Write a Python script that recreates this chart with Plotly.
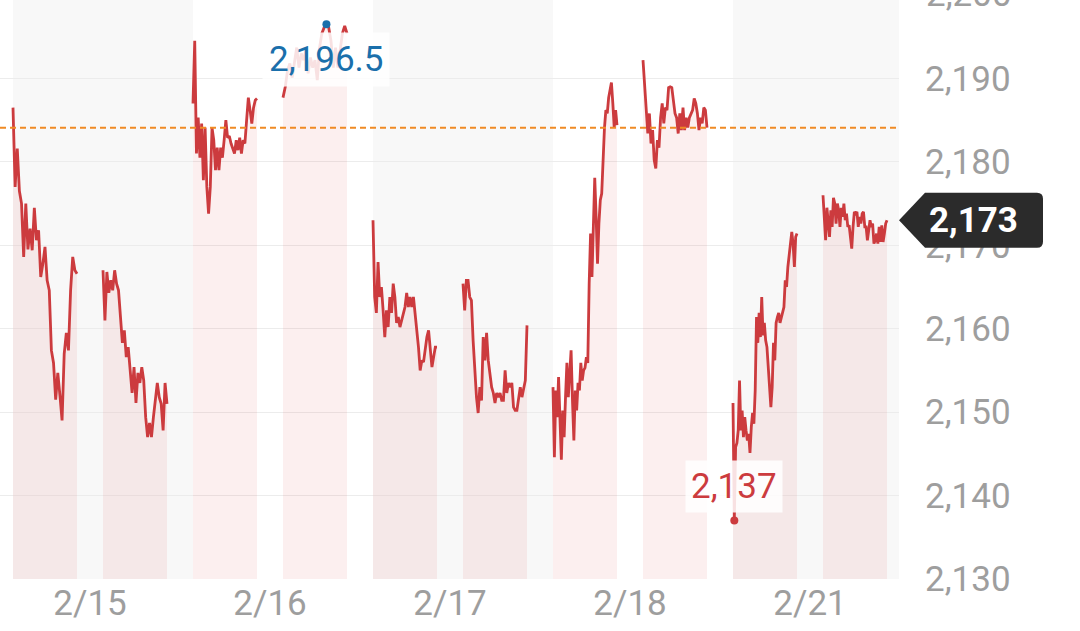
import numpy as np
import plotly.graph_objects as go

# ---------------- data ----------------
day_labels = ["2/15", "2/16", "2/17", "2/18", "2/21"]

feb15_am = [2186.5, 2177, 2181.6, 2176.5, 2175, 2168.6, 2175, 2169.5, 2172, 2169.4, 2174.5, 2170.6,
            2171.8, 2166.2, 2167.8, 2169.8, 2165.8, 2164.6, 2157.4, 2155.9, 2151.5, 2154.7, 2152,
            2149, 2157, 2159.5, 2157.4, 2164.6, 2168.6, 2167, 2166.6]
feb15_pm = [2167, 2161, 2166.8, 2164.3, 2165.8, 2164.6, 2167, 2165.4, 2164.6, 2161.4, 2158.3, 2159.8,
            2156.6, 2157.8, 2155.4, 2152.3, 2155.4, 2151.1, 2154.7, 2153.5, 2155.4, 2153.8, 2149.4,
            2147, 2148.7, 2147, 2149.4, 2151.4, 2153.5, 2151.8, 2151, 2147.8, 2153.5, 2151]
feb16_am = [2187, 2194.5, 2181, 2185.3, 2180.5, 2184.6, 2177.8, 2184.1, 2177, 2173.8, 2177, 2184.1,
            2182.6, 2179, 2181.7, 2179, 2181.7, 2180.5, 2182.6, 2185, 2182.9, 2183.1, 2182.2, 2181.7,
            2181, 2182.6, 2181.4, 2182.9, 2181, 2182.6, 2182.2, 2185, 2187.7, 2186.2, 2184.6, 2186.5,
            2187.4, 2187.6]
feb16_pm = [2187.7, 2189, 2191, 2191.8, 2190.1, 2192.2, 2193.7, 2191.3, 2193, 2192.2, 2193.4, 2190.6,
            2192.5, 2191.3, 2192.2, 2189.8, 2193.7, 2195.4, 2196.1, 2196.5, 2196.1, 2194.5, 2191.3,
            2193.7, 2191.3, 2193.4, 2195.4, 2196.3, 2195.4]
feb17_am = [2173, 2163.8, 2161.9, 2168, 2163.8, 2165, 2162.2, 2159, 2162.2, 2160.2, 2163.8, 2161.9,
            2165.4, 2163.8, 2160.7, 2161.4, 2160.2, 2161, 2161.9, 2162.6, 2164.3, 2162.6, 2163.8,
            2162.6, 2163.8, 2161.9, 2159.8, 2157.8, 2155, 2156.2, 2156, 2157.8, 2159, 2159.8, 2157.8,
            2155.4, 2156.6, 2157.8, 2157.8]
feb17_pm = [2165.4, 2162.2, 2165.8, 2165.8, 2163.8, 2163.4, 2158.6, 2154.7, 2151.8, 2149.9, 2153,
            2151.4, 2159, 2156.2, 2159.5, 2156.2, 2154.2, 2153, 2152.3, 2151.1, 2152.3, 2151.8, 2152.3,
            2151.4, 2151.4, 2155, 2152.3, 2153.5, 2153, 2153.5, 2150.6, 2150.2, 2150.2, 2151.8, 2153,
            2151.8, 2153, 2153.8, 2160.4]
feb18_am = [2153, 2144.6, 2152.6, 2149.4, 2154.2, 2149.4, 2144.3, 2150.2, 2147, 2151.8, 2155.9,
            2151.8, 2154.2, 2157.4, 2151.4, 2146.6, 2152.6, 2150.2, 2153.5, 2152.6, 2155.9, 2153.8,
            2155, 2155.3, 2156.6, 2155.9, 2165.4, 2171.4, 2166.2, 2173.4, 2178.1, 2173.4, 2167.8,
            2172.6, 2175.4, 2176.2, 2181.4, 2184.1, 2186.2, 2185.8, 2187.7, 2188.9, 2189.5, 2187,
            2184.1, 2186.2, 2184.4]
feb18_pm = [2192.2, 2189.4, 2186.2, 2183.4, 2185.8, 2182.2, 2183.8, 2180.2, 2179.2, 2182.6, 2181.7,
            2185.3, 2187, 2184.6, 2186.5, 2186.2, 2188.9, 2189, 2188.9, 2187.4, 2185.8, 2185.3, 2183.4,
            2185.8, 2183.8, 2186.5, 2183.8, 2185.3, 2184.1, 2185.3, 2185.8, 2186.2, 2187.6, 2187,
            2185.8, 2183.8, 2185.3, 2184.6, 2186.5, 2186.2, 2184.1]
feb21_am = [2151.1, 2137, 2145.8, 2146.3, 2147.8, 2153.8, 2147.8, 2150.2, 2147, 2149.4, 2147.8,
            2146.6, 2147.4, 2145.1, 2148.2, 2149.9, 2148.6, 2152.6, 2161.4, 2158.3, 2161.9, 2159,
            2163.8, 2159.2, 2160.7, 2158.6, 2157.8, 2155.4, 2153.5, 2150.6, 2153, 2158.3, 2156.2,
            2160.7, 2161.4, 2161.9, 2160.7, 2161.4, 2162.2, 2162.6, 2165.8, 2165, 2167.4, 2169,
            2170.6, 2171.6, 2170.2, 2167.4, 2171, 2171.4]
feb21_pm = [2176, 2173.8, 2170.6, 2174.5, 2172.6, 2171, 2174.2, 2172.2, 2175.7, 2175, 2172.6, 2175,
            2174.2, 2172.2, 2174.5, 2173.4, 2175, 2173, 2173.8, 2172.2, 2172.4, 2171, 2169.6, 2172.2,
            2174, 2173.8, 2174, 2172.2, 2173.4, 2172.6, 2173.8, 2174, 2172.2, 2172.2, 2170.6, 2171.8,
            2173, 2172.2, 2172.6, 2170.2, 2170.6, 2171.4, 2170.2, 2172.2, 2170.4, 2172.4, 2170.4,
            2171.4, 2172.6, 2173]

prev_close = 2184.1
y_ticks = [2130, 2140, 2150, 2160, 2170, 2180, 2190]

sessions = [
    (0, 0, feb15_am), (0, 1, feb15_pm),
    (1, 0, feb16_am), (1, 1, feb16_pm),
    (2, 0, feb17_am), (2, 1, feb17_pm),
    (3, 0, feb18_am), (3, 1, feb18_pm),
    (4, 0, feb21_am), (4, 1, feb21_pm),
]

# ---------------- layout geometry ----------------
W, H = 1080, 631
ML, MR, MT, MB = 0, 181, 0, 52
PLOT_W = W - ML - MR
PLOT_H = H - MT - MB
DAY_PX = 180.0
SESSION_OFFSETS = [0.0, 90 / DAY_PX]
SESSION_LEN = 64 / DAY_PX
X_RANGE = [-13 / DAY_PX, (PLOT_W - 13) / DAY_PX]
Y_RANGE = [2130, 2199.4]
YSCALE = PLOT_H / (Y_RANGE[1] - Y_RANGE[0])

RED = "#cc3b3e"
FILL = "rgba(220,50,50,0.08)"
BLUE = "#1a6fab"
GRAY_TXT = "#9e9e9e"
FONT = "Roboto"

fig = go.Figure()

all_x, all_y = [], []
for day, half, vals in sessions:
    xs = day + SESSION_OFFSETS[half] + np.linspace(0, SESSION_LEN, len(vals))
    all_x.extend(xs)
    all_y.extend(vals)
    fig.add_trace(go.Scatter(
        x=xs, y=vals, mode="lines", fill="tozeroy", fillcolor=FILL,
        line=dict(color=RED, width=2.8), hoverinfo="skip", showlegend=False))

all_y = np.array(all_y)
imax = int(np.argmax(all_y))
imin = int(np.argmin(all_y))


def fmt(v):
    s = f"{v:,.1f}"
    return s[:-2] if s.endswith(".0") else s


fig.add_trace(go.Scatter(x=[all_x[imax]], y=[all_y[imax]], mode="markers",
                         marker=dict(color=BLUE, size=8), showlegend=False, hoverinfo="skip"))
fig.add_trace(go.Scatter(x=[all_x[imin]], y=[all_y[imin]], mode="markers",
                         marker=dict(color=RED, size=8), showlegend=False, hoverinfo="skip"))

shapes = []
for i in range(len(day_labels)):
    if i % 2 == 0:
        shapes.append(dict(type="rect", xref="x", yref="paper", x0=i, x1=i + 1, y0=0, y1=1,
                           fillcolor="#f8f8f8", line=dict(width=0), layer="below"))
shapes.append(dict(type="line", xref="paper", yref="y", x0=0, x1=1, y0=prev_close, y1=prev_close,
                   line=dict(color="#f08a24", width=2, dash="6px,4px"), layer="above"))

last = feb21_pm[-1]
bx0 = 1 + 26 / PLOT_W
bx1 = 1 + 144 / PLOT_W
hh = 27.5 / YSCALE
rx = 6 / PLOT_W
ry = 6 / YSCALE
path = (f"M 1,{last} L {bx0},{last + hh} L {bx1 - rx},{last + hh} "
        f"Q {bx1},{last + hh} {bx1},{last + hh - ry} L {bx1},{last - hh + ry} "
        f"Q {bx1},{last - hh} {bx1 - rx},{last - hh} L {bx0},{last - hh} Z")
shapes.append(dict(type="path", xref="paper", yref="y", path=path,
                   fillcolor="#2b2b2b", line=dict(width=0), layer="above"))

annotations = [
    dict(x=all_x[imax], y=all_y[imax], xref="x", yref="y", text=fmt(all_y[imax]),
         showarrow=False, yshift=-35.5, xanchor="center", yanchor="middle",
         font=dict(family=FONT, size=35, color=BLUE),
         bgcolor="rgba(255,255,255,0.85)", borderpad=6),
    dict(x=all_x[imin], y=all_y[imin], xref="x", yref="y", text=fmt(all_y[imin]),
         showarrow=False, yshift=34.5, xanchor="center", yanchor="middle",
         font=dict(family=FONT, size=35, color=RED),
         bgcolor="rgba(255,255,255,0.85)", borderpad=5),
    dict(x=1 + 74 / PLOT_W, y=last, xref="paper", yref="y", text=f"<b>{fmt(last)}</b>",
         xanchor="center", yanchor="middle",
         showarrow=False, font=dict(family=FONT, size=35, color="white")),
    dict(x=1, xshift=25, xanchor="left", yanchor="middle",
         y=(2200 - Y_RANGE[0]) / (Y_RANGE[1] - Y_RANGE[0]),
         xref="paper", yref="paper", text="2,200", showarrow=False,
         font=dict(family=FONT, size=35, color=GRAY_TXT)),
]

tick_pos = [i + (SESSION_LEN + SESSION_OFFSETS[1]) / 2 for i in range(len(day_labels))]

fig.update_layout(
    width=W, height=H,
    margin=dict(l=ML, r=MR, t=MT, b=MB, pad=0),
    paper_bgcolor="white", plot_bgcolor="white",
    showlegend=False,
    shapes=shapes, annotations=annotations,
    font=dict(family=FONT),
    xaxis=dict(range=X_RANGE, showgrid=False, zeroline=False, showline=False,
               tickmode="array", tickvals=tick_pos, ticktext=day_labels,
               tickfont=dict(family=FONT, size=35, color=GRAY_TXT), ticks="", fixedrange=True),
    yaxis=dict(range=Y_RANGE, side="right", showgrid=True, gridcolor="#ececec", gridwidth=1,
               zeroline=False, showline=False, tickmode="array", tickvals=y_ticks,
               ticktext=[f"{v:,}" for v in y_ticks], ticks="", ticklabelstandoff=25,
               tickfont=dict(family=FONT, size=35, color=GRAY_TXT), fixedrange=True),
)

fig.write_html("out.html", config={"displayModeBar": False},
               post_script="document.body.style.margin='0';document.body.style.overflow='hidden';")
